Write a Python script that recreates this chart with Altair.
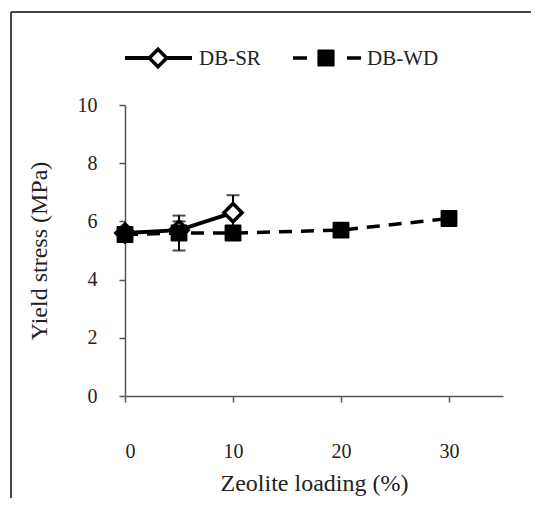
import altair as alt
import pandas as pd

# ---- data ----
series = ["DB-SR", "DB-WD"]

sr_x = [0, 5, 10]
sr_y = [5.6, 5.7, 6.3]
sr_err = [0.15, 0.3, 0.6]

wd_x = [0, 5, 10, 20, 30]
wd_y = [5.55, 5.6, 5.6, 5.7, 6.1]
wd_err = [0.15, 0.6, 0.1, 0.1, 0.1]

x_ticks = [0, 10, 20, 30]
y_ticks = [0, 2, 4, 6, 8, 10]

FONT = "Times New Roman, Liberation Serif, serif"

sr = pd.DataFrame({"x": sr_x, "y": sr_y, "err": sr_err, "series": series[0]})
wd = pd.DataFrame({"x": wd_x, "y": wd_y, "err": wd_err, "series": series[1]})
for d in (sr, wd):
    d["lo"] = d["y"] - d["err"]
    d["hi"] = d["y"] + d["err"]

xs = alt.Scale(domain=[0, 35], nice=False)
ys = alt.Scale(domain=[0, 10], nice=False)

xax = alt.Axis(values=x_ticks, title="Zeolite loading (%)", grid=False,
               labelFontSize=20, labelFont=FONT, labelColor="#222",
               labelPadding=39, tickSize=6, tickWidth=1.5, tickColor="#555",
               domainColor="#555", domainWidth=1.5,
               titleFont=FONT, titleFontSize=24, titleFontWeight="normal",
               titleColor="#222", titlePadding=10)
yax = alt.Axis(values=y_ticks, title="Yield stress (MPa)", grid=False,
               labelFontSize=20, labelFont=FONT, labelColor="#222",
               labelPadding=22, tickSize=6, tickWidth=1.5, tickColor="#555",
               domainColor="#555", domainWidth=1.5,
               titleFont=FONT, titleFontSize=24, titleFontWeight="normal",
               titleColor="#222", titlePadding=26)

X = alt.X("x:Q", scale=xs, axis=xax)
Y = alt.Y("y:Q", scale=ys, axis=yax)


def err_layers(df):
    base = alt.Chart(df)
    rule = base.mark_rule(color="black", strokeWidth=2).encode(
        x=alt.X("x:Q", scale=xs), y=alt.Y("lo:Q", scale=ys), y2="hi:Q")
    cap_lo = base.mark_tick(color="black", orient="horizontal", size=13, thickness=2).encode(
        x=alt.X("x:Q", scale=xs), y=alt.Y("lo:Q", scale=ys))
    cap_hi = base.mark_tick(color="black", orient="horizontal", size=13, thickness=2).encode(
        x=alt.X("x:Q", scale=xs), y=alt.Y("hi:Q", scale=ys))
    return [rule, cap_lo, cap_hi]


sr_line = alt.Chart(sr).mark_line(color="black", strokeWidth=4).encode(x=X, y=Y)
wd_line = alt.Chart(wd).mark_line(color="black", strokeWidth=3.5,
                                  strokeDash=[13, 9]).encode(x=X, y=Y)
sr_pts = alt.Chart(sr).mark_point(shape="diamond", filled=True, fill="white",
                                  stroke="black", strokeWidth=3.5, size=330,
                                  opacity=1).encode(x=X, y=Y)
wd_pts = alt.Chart(wd).mark_point(shape="square", filled=True, fill="black",
                                  stroke="black", strokeWidth=2, size=220,
                                  strokeJoin="round", opacity=1).encode(x=X, y=Y)

# ---- legend (drawn manually to show line + marker) ----
leg_sr = pd.DataFrame({"series": [series[0]]})
leg_wd = pd.DataFrame({"series": [series[1]]})
LY = -47
legend = [
    alt.Chart(leg_sr).mark_rule(color="black", strokeWidth=4).encode(
        x=alt.value(0), x2=alt.value(67), y=alt.value(LY)),
    alt.Chart(leg_sr).mark_point(shape="diamond", filled=True, fill="white",
                                 stroke="black", strokeWidth=3.5, size=300,
                                 opacity=1).encode(x=alt.value(33), y=alt.value(LY)),
    alt.Chart(leg_sr).mark_text(align="left", baseline="middle", font=FONT,
                                fontSize=21, color="#222").encode(
        x=alt.value(74), y=alt.value(LY + 1), text="series:N"),
    alt.Chart(leg_wd).mark_rule(color="black", strokeWidth=3.5,
                                strokeDash=[14, 40]).encode(
        x=alt.value(168), x2=alt.value(236), y=alt.value(LY)),
    alt.Chart(leg_wd).mark_point(shape="square", filled=True, fill="black",
                                 stroke="black", strokeWidth=2, size=230,
                                 strokeJoin="round", opacity=1).encode(
        x=alt.value(201), y=alt.value(LY)),
    alt.Chart(leg_wd).mark_text(align="left", baseline="middle", font=FONT,
                                fontSize=21, color="#222").encode(
        x=alt.value(242), y=alt.value(LY + 1), text="series:N"),
]

# frame of the figure box (only top and left edges are visible in the crop)
frame = [
    alt.Chart(leg_sr).mark_rule(color="#444", strokeWidth=2).encode(
        x=alt.value(-114), x2=alt.value(420), y=alt.value(-93)),
    alt.Chart(leg_sr).mark_rule(color="#444", strokeWidth=2).encode(
        x=alt.value(-114), y=alt.value(-93), y2=alt.value(420)),
]

layers = frame + [wd_line, sr_line] + err_layers(sr) + err_layers(wd) + [sr_pts, wd_pts] + legend

chart = alt.layer(*layers).properties(
    width=378, height=291,
    autosize=alt.AutoSizeParams(type="none"),
    padding={"left": 117, "top": 97, "right": 28, "bottom": 102},
    background="white",
).configure_view(stroke=None)

chart.save("out.html", embed_options={"renderer": "svg", "actions": False})
